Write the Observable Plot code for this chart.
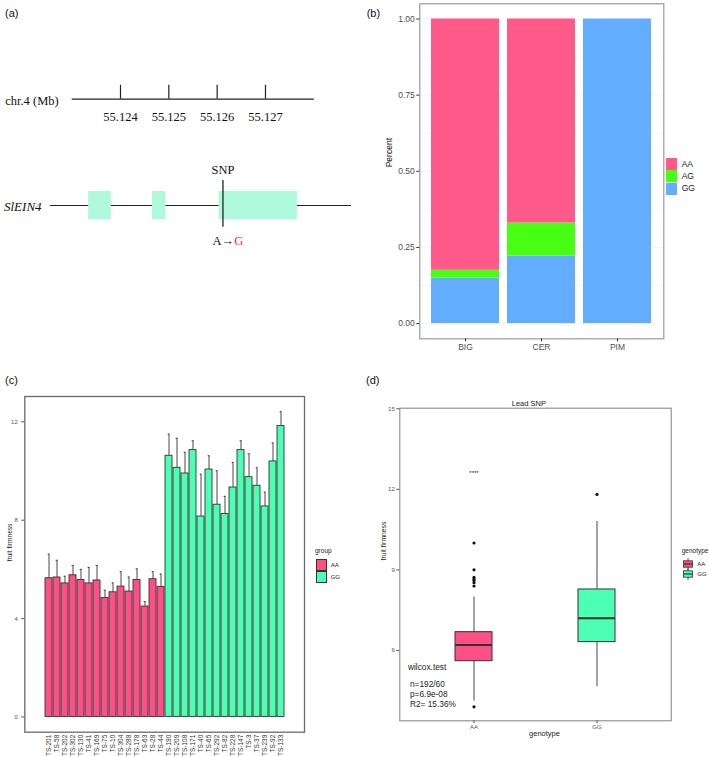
<!DOCTYPE html>
<html><head><meta charset="utf-8">
<script src="https://cdn.jsdelivr.net/npm/d3@7"></script>
<script src="https://cdn.jsdelivr.net/npm/@observablehq/plot@0.6"></script>
<style>
body{margin:0;background:#fff;}
#fig{position:relative;width:709px;height:757px;overflow:hidden;font-family:"Liberation Sans",Arial,sans-serif;background:#fff;}
.abs{position:absolute;white-space:nowrap;line-height:1;}
</style></head><body><div id="fig"></div>
<script>
// ---------- (a) gene model ----------
const chrTicks = [55.124, 55.125, 55.126, 55.127];
const chrSpan = [55.1230, 55.12801];
const geneSpan = [55.12255, 55.12878];
const exonStart = [55.12334, 55.12466, 55.12604];
const exonEnd = [55.12381, 55.12494, 55.12766];
const snpPos = [55.12612];
const geneName = "SlEIN4";

// ---------- (b) genotype frequency ----------
const populations = ["BIG", "CER", "PIM"];
const genoClasses = ["AA", "AG", "GG"];
const fracAA = [0.825, 0.670, 0.000];
const fracAG = [0.026, 0.108, 0.000];
const fracGG = [0.149, 0.222, 1.000];

// ---------- (c) fruit firmness by accession ----------
const accAA = ["TS-201","TS-58","TS-202","TS-302","TS-130","TS-41","TS-169","TS-75","TS-10","TS-304","TS-288","TS-178","TS-63","TS-28","TS-44"];
const accGG = ["TS-190","TS-209","TS-108","TS-171","TS-40","TS-65","TS-292","TS-82","TS-228","TS-147","TS-3","TS-37","TS-239","TS-92","TS-133"];
const meanAA = [5.64,5.67,5.43,5.76,5.57,5.43,5.55,4.84,5.07,5.30,5.10,5.57,4.49,5.60,5.29];
const sdAA   = [0.98,0.70,0.29,0.40,0.43,0.65,0.61,0.31,0.38,0.61,0.59,0.45,0.20,0.31,0.52];
const meanGG = [10.62,10.13,9.90,10.85,8.15,10.06,8.63,8.25,9.33,10.85,9.75,9.40,8.56,10.39,11.83];
const sdGG   = [0.88,1.20,0.86,0.38,1.72,0.56,1.38,0.72,1.02,0.38,0.95,0.73,0.58,0.75,0.58];

// ---------- (d) boxplot by genotype ----------
const boxGeno = ["AA", "GG"];
const boxLo  = [4.11, 4.65];
const boxQ1  = [5.60, 6.31];
const boxMed = [6.20, 7.20];
const boxQ3  = [6.68, 8.27];
const boxHi  = [7.99, 10.80];
const outlierAA = [10.0, 9.0, 8.72, 8.66, 8.60, 8.52, 8.40, 3.90];
const outlierGG = [11.81];
const sigText = "****";
const sigValue = 12.62;
const statTitle = "wilcox.test";
const statLines = ["n=192/60", "p=6.9e-08", "R2= 15.36%"];
const statValues = [4.73, 4.36, 3.99];
const statTitleValue = 5.36;

const colB = ["#FF5A8A", "#47FF12", "#63ADFF"];
const colAA = "#FF4F87", colGG = "#4CFFB3";

const fig = document.getElementById("fig");
function place(el, left, top) {
  el.style.position = "absolute"; el.style.left = left + "px"; el.style.top = top + "px";
  fig.appendChild(el); return el;
}
function html(txt, left, top, css) {
  const d = document.createElement("div"); d.className = "abs"; d.textContent = txt;
  d.style.left = left + "px"; d.style.top = top + "px"; if (css) d.style.cssText += css;
  fig.appendChild(d); return d;
}
const baseStyle = {background: "transparent", overflow: "visible", fontFamily: "'Liberation Sans', Arial, sans-serif"};

// ===== Panel (a) =====
const CHR_Y = 98.7, GENE_Y = 205;
const serif = "'Liberation Serif', 'Times New Roman', serif";
const exons = exonStart.map((s, i) => ({x1: s, x2: exonEnd[i]}));
const pa = Plot.plot({
  width: 360, height: 260, margin: 0,
  x: {domain: [55.121517, 55.128966], range: [0, 360], axis: null},
  y: {domain: [0, 260], range: [0, 260], axis: null},
  style: baseStyle,
  marks: [
    Plot.ruleY([{x1: chrSpan[0], x2: chrSpan[1]}], {x1: "x1", x2: "x2", y: () => CHR_Y, stroke: "#222", strokeWidth: 1.2}),
    Plot.ruleX(chrTicks, {x: d => d, y1: () => CHR_Y - 14, y2: () => CHR_Y, stroke: "#222", strokeWidth: 1.2}),
    Plot.text(chrTicks, {x: d => d, y: () => CHR_Y + 18, text: d => d.toFixed(3), fontFamily: serif, fontSize: 12.5, fill: "#111"}),
    Plot.text(["chr.4 (Mb)"], {frameAnchor: "left", y: () => CHR_Y + 2, dx: 4.7, textAnchor: "start", fontFamily: serif, fontSize: 12.5, fill: "#111"}),
    Plot.ruleY([{x1: geneSpan[0], x2: geneSpan[1]}], {x1: "x1", x2: "x2", y: () => GENE_Y, stroke: "#222", strokeWidth: 1.2}),
    Plot.rect(exons, {x1: "x1", x2: "x2", y1: () => GENE_Y - 14, y2: () => GENE_Y + 14.3, fill: "#AFFADC"}),
    Plot.ruleX(snpPos, {x: d => d, y1: () => GENE_Y - 25, y2: () => GENE_Y + 21.7, stroke: "#222", strokeWidth: 1.3}),
    Plot.text(snpPos, {x: d => d, y: () => GENE_Y - 36, text: () => "SNP", fontFamily: serif, fontSize: 12.5, fill: "#111"}),
    Plot.text(snpPos, {x: d => d, y: () => GENE_Y + 35, dx: 11, text: () => "A\u2192", textAnchor: "end", fontFamily: serif, fontSize: 12.5, fill: "#111"}),
    Plot.text(snpPos, {x: d => d, y: () => GENE_Y + 35, dx: 11.3, text: () => "G", textAnchor: "start", fontFamily: serif, fontSize: 12.5, fill: "#FF1A1A"}),
    Plot.text([geneName], {frameAnchor: "left", y: () => GENE_Y + 1, dx: 3.5, textAnchor: "start", fontFamily: serif, fontStyle: "italic", fontSize: 13, fill: "#111"})
  ]
});
place(pa, 0, 0);

// ===== Panel (b) =====
const tableB = populations.flatMap((p, i) => {
  let acc = 0;
  return [["GG", fracGG[i]], ["AG", fracAG[i]], ["AA", fracAA[i]]].map(([g, v]) => {
    const r = {pop: p, geno: g, y1: acc, y2: acc + v}; acc += v; return r;
  });
});
const gridB = [0, 0.125, 0.25, 0.375, 0.5, 0.625, 0.75, 0.875, 1];
const pb = Plot.plot({
  width: 349, height: 360, marginLeft: 59.3, marginRight: 45.7, marginTop: 3.3, marginBottom: 21.7,
  x: {domain: populations, paddingInner: 0.1, paddingOuter: 0.15},
  y: {domain: [-0.05, 1.05]},
  color: {domain: genoClasses, range: colB},
  style: baseStyle,
  marks: [
    Plot.ruleY(gridB, {stroke: "#f1f1f1", strokeWidth: 0.7}),
    Plot.barY(tableB, {x: "pop", y1: "y1", y2: "y2", fill: "geno"}),
    Plot.frame({stroke: "#9a9a9a", strokeWidth: 1.2}),
    Plot.axisY([0, 0.25, 0.5, 0.75, 1], {tickFormat: d3.format(".2f"), tickSize: 3, tickPadding: 2, fontSize: 8.5, stroke: "#333", fill: "#4d4d4d", label: null}),
    Plot.axisX({tickSize: 3, tickPadding: 2, fontSize: 8.5, stroke: "#333", fill: "#4d4d4d", label: null}),
    Plot.text(["Percent"], {frameAnchor: "left", rotate: -90, dx: -31, dy: -4, fontSize: 8.5, fill: "#111"})
  ]
});
place(pb, 360, 0);
// legend (b)
genoClasses.forEach((g, i) => {
  const k = document.createElement("div"); k.className = "abs";
  k.style.cssText += `left:666px;top:${157.7 + i * 12.4}px;width:10.7px;height:12.4px;background:${colB[i]};`;
  fig.appendChild(k);
  html(g, 681.7, 159.5 + i * 12.4, "font-size:8.5px;color:#222;");
});

// ===== Panel (c) =====
const tableC = [
  ...accAA.map((a, i) => ({acc: a, group: "AA", mean: meanAA[i], upper: meanAA[i] + sdAA[i]})),
  ...accGG.map((a, i) => ({acc: a, group: "GG", mean: meanGG[i], upper: meanGG[i] + sdGG[i]}))
];
const pc = Plot.plot({
  width: 360, height: 397, marginLeft: 24.3, marginRight: 56, marginTop: 36, marginBottom: 25.3,
  x: {domain: [...accAA, ...accGG], paddingInner: 0.14, paddingOuter: 1.465},
  y: {domain: [-0.62, 13.03]},
  color: {domain: ["AA", "GG"], range: [colAA, colGG]},
  style: baseStyle,
  marks: [
    Plot.ruleX(tableC, {x: "acc", y1: "mean", y2: "upper", stroke: "#333", strokeWidth: 0.9}),
    Plot.tickY(tableC, {x: "acc", y: "upper", stroke: "#333", strokeWidth: 0.9, insetLeft: 2.6, insetRight: 2.6}),
    Plot.barY(tableC, {x: "acc", y1: 0, y2: "mean", fill: "group", stroke: "#333", strokeWidth: 0.9}),
    Plot.frame({stroke: "#6a6a6a", strokeWidth: 1.3}),
    Plot.axisY([0, 4, 8, 12], {tickSize: 3, tickPadding: 4, fontSize: 6, stroke: "#555", fill: "#555", label: null}),
    Plot.axisX({tickSize: 0, tickPadding: 2.5, tickRotate: -90, fontSize: 6.5, fill: "#333", label: null}),
    Plot.text(["fruit firmness"], {frameAnchor: "left", rotate: -90, dx: -15.1, dy: -3, fontSize: 6.6, fill: "#222"})
  ]
});
place(pc, 0, 360);
// legend (c)
html("group", 315, 548, "font-size:6.5px;color:#222;");
[["AA", colAA], ["GG", colGG]].forEach(([g, c], i) => {
  const k = document.createElement("div"); k.className = "abs";
  k.style.cssText += `left:315.7px;top:${559 + i * 11.7}px;width:9.5px;height:10.2px;background:${c};border:0.8px solid #333;`;
  fig.appendChild(k);
  html(g, 330.7, 561.8 + i * 11.7, "font-size:6px;color:#222;");
});

// ===== Panel (d) =====
const tableD = boxGeno.map((g, i) => ({geno: g, lo: boxLo[i], q1: boxQ1[i], med: boxMed[i], q3: boxQ3[i], hi: boxHi[i]}));
const outliers = [...outlierAA.map(v => ({geno: "AA", v})), ...outlierGG.map(v => ({geno: "GG", v}))];
const pd = Plot.plot({
  width: 349, height: 377, marginLeft: 39.3, marginRight: 38.3, marginTop: 27.7, marginBottom: 36.7,
  x: {domain: boxGeno, paddingInner: 0.7, paddingOuter: 0.45},
  y: {domain: [3.38, 15.02]},
  color: {domain: boxGeno, range: [colAA, colGG]},
  style: baseStyle,
  marks: [
    Plot.ruleX(tableD, {x: "geno", y1: "lo", y2: "q1", stroke: "#333", strokeWidth: 0.9}),
    Plot.ruleX(tableD, {x: "geno", y1: "q3", y2: "hi", stroke: "#333", strokeWidth: 0.9}),
    Plot.barY(tableD, {x: "geno", y1: "q1", y2: "q3", fill: "geno", stroke: "#333", strokeWidth: 1}),
    Plot.tickY(tableD, {x: "geno", y: "med", stroke: "#333", strokeWidth: 2}),
    Plot.dot(outliers, {x: "geno", y: "v", r: 1.6, fill: "#111", stroke: null}),
    Plot.text([sigText], {x: () => "AA", y: () => sigValue, text: d => d, fontSize: 6, fill: "#222"}),
    Plot.text([statTitle], {x: () => "AA", y: () => statTitleValue, text: d => d, dx: -66, textAnchor: "start", fontSize: 8.3, fill: "#222"}),
    Plot.text(statLines, {x: () => "AA", y: (d, i) => statValues[i], text: d => d, dx: -64, textAnchor: "start", fontSize: 8.3, fill: "#222"}),
    Plot.frame({stroke: "#8a8a8a", strokeWidth: 1.1}),
    Plot.axisY([6, 9, 12, 15], {tickSize: 3, tickPadding: 2, fontSize: 6, stroke: "#555", fill: "#555", label: null}),
    Plot.axisX({tickSize: 3, tickPadding: 1, fontSize: 6, stroke: "#555", fill: "#555", label: null}),
    Plot.text(["fruit firmness"], {frameAnchor: "left", rotate: -90, dx: -16.3, dy: -4, fontSize: 6.8, fill: "#222"}),
    Plot.text(["genotype"], {frameAnchor: "bottom", dy: 15, dx: 9, fontSize: 7.5, fill: "#222"}),
    Plot.text(["Lead SNP"], {frameAnchor: "top", dy: -7.7, dx: -6.7, fontSize: 7.5, fill: "#222"})
  ]
});
place(pd, 360, 380);
// legend (d)
html("genotype", 681.7, 547.5, "font-size:6.5px;color:#222;");
[["AA", colAA], ["GG", colGG]].forEach(([g, c], i) => {
  const cy = 563.5 + i * 10;
  const s = d3.create("svg").attr("width", 12).attr("height", 12);
  s.append("line").attr("x1", 6).attr("x2", 6).attr("y1", 0).attr("y2", 12).attr("stroke", "#333").attr("stroke-width", 0.8);
  s.append("rect").attr("x", 1.5).attr("y", 2.8).attr("width", 9).attr("height", 6.4).attr("fill", c).attr("stroke", "#333").attr("stroke-width", 0.8);
  s.append("line").attr("x1", 1.5).attr("x2", 10.5).attr("y1", 6).attr("y2", 6).attr("stroke", "#333").attr("stroke-width", 1.2);
  place(s.node(), 681.5, cy - 6);
  html(g, 697.3, cy - 3, "font-size:6px;color:#222;");
});

// panel labels
html("(a)", 5, 7.5, "font-size:11px;color:#111;");
html("(b)", 366.7, 7.5, "font-size:11px;color:#111;");
html("(c)", 5, 374.5, "font-size:11px;color:#111;");
html("(d)", 366, 374.5, "font-size:11px;color:#111;");
</script></body></html>
